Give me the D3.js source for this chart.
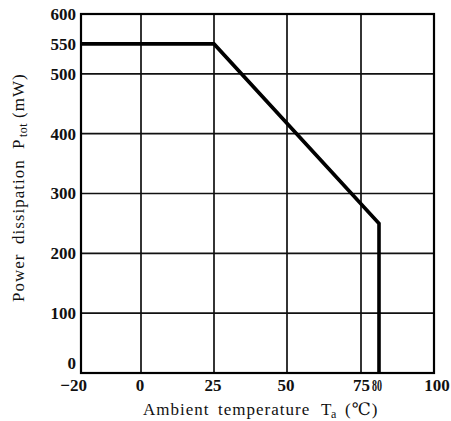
<!DOCTYPE html>
<html><head><meta charset="utf-8">
<script src="https://cdn.jsdelivr.net/npm/d3@7"></script>
<style>body{margin:0;background:#fff}</style>
</head><body>
<svg id="c" width="451" height="421"></svg>
<script>
const curveT = [-20, 25, 80, 80];
const curveP = [550, 550, 250, 0];
const xTicks = [-20, 0, 25, 50, 75, 80, 100];
const xGrid = [0, 25, 50, 75];
const yTicks = [0, 100, 200, 300, 400, 500, 550, 600];
const yGrid = [100, 200, 300, 400, 500];

const svg = d3.select("#c");
const x = d3.scaleLinear().domain([-20, 0, 25, 50, 75, 80, 100]).range([81, 141, 214, 287, 361, 379, 434]);
const y = d3.scaleLinear().domain([0, 600]).range([373, 14]);
const font = "'Liberation Serif', 'DejaVu Serif', serif";

svg.selectAll(".gx").data(xGrid).enter().append("line")
  .attr("x1", d => x(d)).attr("x2", d => x(d)).attr("y1", y(600)).attr("y2", y(0))
  .attr("stroke", "#111").attr("stroke-width", 1.7);
svg.selectAll(".gy").data(yGrid).enter().append("line")
  .attr("x1", x(-20)).attr("x2", x(100)).attr("y1", d => y(d)).attr("y2", d => y(d))
  .attr("stroke", "#111").attr("stroke-width", 1.7);
svg.append("rect").attr("x", x(-20)).attr("y", y(600)).attr("width", x(100) - x(-20)).attr("height", y(0) - y(600))
  .attr("fill", "none").attr("stroke", "#000").attr("stroke-width", 2.2);

const pts = curveT.map((t, i) => [x(t), y(curveP[i])]);
svg.append("path").attr("d", d3.line()(pts)).attr("fill", "none").attr("stroke", "#000")
  .attr("stroke-width", 3.6).attr("stroke-linejoin", "miter");

svg.selectAll(".ty").data(yTicks).enter().append("text")
  .attr("x", 76).attr("y", d => d === 0 ? y(d) - 10 : y(d)).attr("dy", "0.35em").attr("text-anchor", "end")
  .attr("font-family", font).attr("font-size", 17).attr("font-weight", "bold").attr("fill", "#111")
  .text(d => d);

const tx = svg.selectAll(".tx").data(xTicks).enter().append("text")
  .attr("x", d => d === -20 ? x(d) + 6 : d === 75 ? x(d) + 9 : d === 80 ? x(d) - 7 : d === 100 ? x(d) + 3 : x(d) - 1)
  .attr("y", 391)
  .attr("text-anchor", d => d === -20 || d === 75 ? "end" : d === 80 ? "start" : "middle")
  .attr("font-family", font).attr("font-size", 17).attr("font-weight", "bold").attr("fill", "#111")
  .text(d => d < 0 ? "\u2212" + Math.abs(d) : d);
tx.filter(d => d === 80).attr("textLength", 10).attr("lengthAdjust", "spacingAndGlyphs");

const lab = (sel, xx, yy, txt, size) => sel.append("text").attr("x", xx).attr("y", yy)
  .attr("font-family", font).attr("font-size", size).attr("letter-spacing", size > 12 ? 1 : 0.5)
  .attr("fill", "#111").text(txt);

const xg = svg.append("g");
lab(xg, 143, 415, "Ambient", 17);
lab(xg, 218, 415, "temperature", 17);
lab(xg, 321, 415, "T", 17);
lab(xg, 331, 418, "a", 12);
lab(xg, 345, 415, "(\u2103)", 17);

const yg = svg.append("g").attr("transform", "translate(24,0) rotate(-90)");
lab(yg, -302, 0, "Power", 17);
lab(yg, -244, 0, "dissipation", 17);
lab(yg, -149, 0, "P", 17);
lab(yg, -137, 3, "tot", 12);
lab(yg, -118, 0, "(mW)", 17);
</script>
</body></html>
